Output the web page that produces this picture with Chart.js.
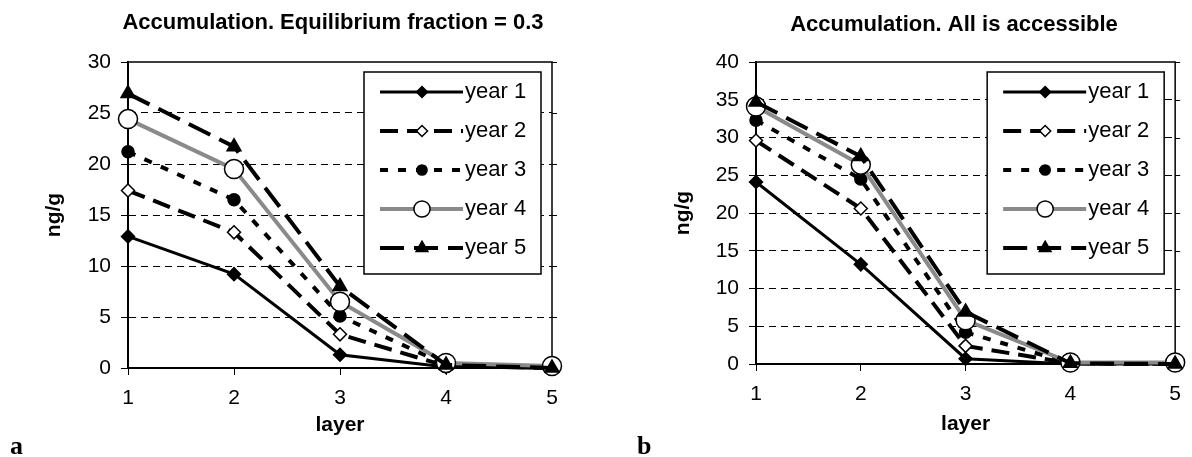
<!DOCTYPE html>
<html>
<head>
<meta charset="utf-8">
<script src="https://cdn.jsdelivr.net/npm/chart.js@4/dist/chart.umd.min.js"></script>
<style>
    html, body { margin: 0; padding: 0; background: #fff; overflow: hidden; }
    #wrap { position: relative; width: 1192px; height: 457px; }
    canvas { position: absolute; top: 0; }
    #canvasA { left: 0; }
    #canvasB { left: 596px; }
    .tag { position: absolute; top: 433px; font: bold 26px "Liberation Serif", "Times New Roman", serif; line-height: 26px; }
</style>
</head>
<body>
<div id="wrap">
    <canvas id="canvasA" width="596" height="457"></canvas>
    <canvas id="canvasB" width="596" height="457"></canvas>
    <div class="tag" style="left:10px">a</div>
    <div class="tag" style="left:637px">b</div>
</div>
<script>
var layers = ["1", "2", "3", "4", "5"];
var years = ["year 1", "year 2", "year 3", "year 4", "year 5"];

// a: equilibrium fraction = 0.3
var eqYear1 = [12.9, 9.2, 1.3, 0.1, 0];
var eqYear2 = [17.4, 13.3, 3.3, 0.2, 0];
var eqYear3 = [21.2, 16.5, 5.1, 0.3, 0];
var eqYear4 = [24.4, 19.5, 6.5, 0.5, 0.2];
var eqYear5 = [26.9, 21.7, 8.0, 0.3, 0];

// b: all is accessible
var accYear1 = [24.1, 13.2, 0.7, 0, 0];
var accYear2 = [29.6, 20.6, 2.4, 0.1, 0];
var accYear3 = [32.3, 24.5, 4.2, 0.1, 0];
var accYear4 = [34.1, 26.4, 5.8, 0.2, 0.2];
var accYear5 = [34.7, 27.5, 6.9, 0.1, 0];

var eqMax = 30, accMax = 40, tickStep = 5;

Chart.defaults.font.family = "'Liberation Sans', Arial, sans-serif";
Chart.defaults.color = "#000";

var styles = [
    {color: "#000", width: 3, dash: [], point: "rectRot", fill: "#000", radius: 6.5},
    {color: "#000", width: 4, dash: [18, 9], point: "rectRot", fill: "#fff", radius: 6.5},
    {color: "#000", width: 4, dash: [8, 10], point: "circle", fill: "#000", radius: 6},
    {color: "#8a8a8a", width: 4, dash: [], point: "circle", fill: "#fff", radius: 9.5},
    {color: "#000", width: 4, dash: [24, 10], point: "triangle", fill: "#000", radius: 8}
];

function makeDatasets(series) {
    return series.map(function(values, i) {
        var s = styles[i];
        return {
            label: years[i],
            data: values,
            borderColor: s.color,
            borderWidth: s.width,
            borderDash: s.dash,
            pointStyle: s.point,
            pointRadius: s.radius,
            pointBackgroundColor: s.fill,
            pointBorderColor: "#000",
            pointBorderWidth: 1.5,
            tension: 0,
            fill: false,
            clip: false,
            order: 4 - i
        };
    });
}

// title drawn at a fixed centre, like the original figure
var headingPlugin = {
    id: "heading",
    afterDraw: function(chart, args, opts) {
        var ctx = chart.ctx;
        ctx.save();
        ctx.font = "bold 22px 'Liberation Sans'";
        ctx.fillStyle = "#000";
        ctx.textAlign = "center";
        ctx.textBaseline = "middle";
        ctx.fillText(opts.text, opts.x, opts.y);
        ctx.restore();
    }
};

// top and right sides of the plot box, with small outer ticks on the right
var framePlugin = {
    id: "frame",
    beforeDatasetsDraw: function(chart) {
        var a = chart.chartArea, ctx = chart.ctx, ys = chart.scales.y;
        ctx.save();
        ctx.strokeStyle = "#000";
        ctx.lineWidth = 1.5;
        ctx.beginPath();
        ctx.moveTo(a.left, a.top);
        ctx.lineTo(a.right, a.top);
        ctx.lineTo(a.right, a.bottom);
        ctx.stroke();
        ctx.lineWidth = 1;
        ctx.beginPath();
        ys.ticks.forEach(function(t) {
            var py = Math.round(ys.getPixelForValue(t.value)) + 0.5;
            ctx.moveTo(a.right, py);
            ctx.lineTo(a.right + 5, py);
        });
        ctx.stroke();
        ctx.restore();
    }
};

// boxed legend inside the plot, line sample with marker in the middle
var boxLegendPlugin = {
    id: "boxLegend",
    afterDraw: function(chart) {
        var a = chart.chartArea, ctx = chart.ctx;
        var w = 177, h = 202, x = a.right - 11 - w, y = a.top + 10;
        ctx.save();
        ctx.fillStyle = "#fff";
        ctx.fillRect(x, y, w, h);
        ctx.lineWidth = 1.5;
        ctx.strokeStyle = "#000";
        ctx.strokeRect(x, y, w, h);
        chart.data.datasets.forEach(function(ds, i) {
            var cy = y + 20 + i * 39;
            ctx.strokeStyle = ds.borderColor;
            ctx.lineWidth = ds.borderWidth;
            ctx.setLineDash(ds.borderDash);
            ctx.beginPath();
            ctx.moveTo(x + 16, cy);
            ctx.lineTo(x + 99, cy);
            ctx.stroke();
            ctx.setLineDash([]);
            ctx.fillStyle = ds.pointBackgroundColor;
            ctx.strokeStyle = "#000";
            ctx.lineWidth = 1.5;
            Chart.helpers.drawPoint(ctx, {pointStyle: ds.pointStyle, radius: ds.pointRadius * 0.85, borderWidth: 1.5, rotation: 0}, x + 58, cy);
            ctx.fillStyle = "#000";
            ctx.font = "22px 'Liberation Sans'";
            ctx.textAlign = "left";
            ctx.textBaseline = "middle";
            ctx.fillText(ds.label, x + 101, cy);
        });
        ctx.restore();
    }
};

function chartOptions(title, yMax, geo) {
    return {
        responsive: false,
        animation: false,
        events: [],
        layout: {padding: {left: 0, right: geo.padRight, top: 62, bottom: 0}},
        plugins: {
            legend: {display: false},
            tooltip: {enabled: false},
            heading: {text: title, x: geo.titleX, y: geo.titleY}
        },
        scales: {
            x: {
                type: "category",
                offset: false,
                grid: {display: true, drawOnChartArea: false, drawTicks: true, tickLength: 7, tickColor: "#000", tickWidth: 1},
                border: {display: true, color: "#000", width: 2},
                ticks: {font: {size: 21}, padding: 11, maxRotation: 0, autoSkip: false},
                title: {display: true, text: "layer", font: {size: 21, weight: "bold"}, padding: {top: 0, bottom: geo.xTitlePad}},
                afterFit: function(s) { s.height = geo.xHeight; }
            },
            y: {
                min: 0,
                max: yMax,
                ticks: {stepSize: tickStep, font: {size: 21}, padding: 10},
                grid: {
                    color: function(c) {
                        return (c.tick && (c.tick.value === 0 || c.tick.value === yMax)) ? "rgba(0,0,0,0)" : "#000";
                    },
                    lineWidth: 1,
                    tickLength: 7,
                    tickColor: "#000"
                },
                border: {display: true, color: "#000", width: 2, dash: [7, 5]},
                title: {display: true, text: "ng/g", font: {size: 21, weight: "bold"}, padding: {top: geo.yTitlePad, bottom: 0}},
                afterFit: function(s) { s.width = geo.yWidth; }
            }
        }
    };
}

new Chart(document.getElementById("canvasA"), {
    type: "line",
    data: {
        labels: layers,
        datasets: makeDatasets([eqYear1, eqYear2, eqYear3, eqYear4, eqYear5])
    },
    options: chartOptions("Accumulation. Equilibrium fraction = 0.3", eqMax,
        {padRight: 44, yWidth: 128, xHeight: 89, xTitlePad: 19.4, yTitlePad: 41.4, titleX: 333, titleY: 23}),
    plugins: [headingPlugin, framePlugin, boxLegendPlugin]
});

new Chart(document.getElementById("canvasB"), {
    type: "line",
    data: {
        labels: layers,
        datasets: makeDatasets([accYear1, accYear2, accYear3, accYear4, accYear5])
    },
    options: chartOptions("Accumulation. All is accessible", accMax,
        {padRight: 12, yWidth: 160, xHeight: 93, xTitlePad: 20.4, yTitlePad: 74.4, titleX: 358, titleY: 25}),
    plugins: [headingPlugin, framePlugin, boxLegendPlugin]
});
</script>
</body>
</html>
